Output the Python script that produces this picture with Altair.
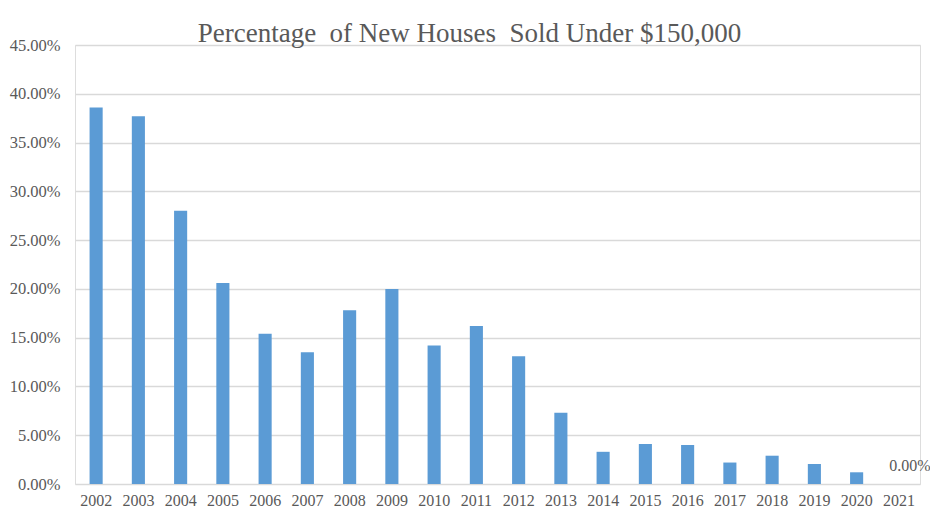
import altair as alt
import pandas as pd

years = [str(y) for y in range(2002, 2022)]
shares = [0.386, 0.377, 0.280, 0.206, 0.154, 0.135, 0.178, 0.200, 0.142, 0.162,
          0.131, 0.073, 0.033, 0.041, 0.040, 0.022, 0.029, 0.0205, 0.012, 0.0]
label_years = ["2021"]

df = pd.DataFrame({"Year": years, "Share": shares})
df["Label"] = [("0.00%" if y in label_years else "") for y in years]

FONT = "Liberation Serif"
GRAY = "#595959"

x = alt.X("Year:N", sort=years, title=None,
          scale=alt.Scale(paddingInner=0.69, paddingOuter=0.345),
          axis=alt.Axis(labelAngle=0, labelFont=FONT, labelFontSize=16, labelColor=GRAY,
                        ticks=False, domain=False, grid=False, labelPadding=8))
y = alt.Y("Share:Q", title=None,
          scale=alt.Scale(domain=[0, 0.45], nice=False),
          axis=alt.Axis(format=".2%", values=[i * 0.05 for i in range(10)],
                        labelFont=FONT, labelFontSize=16.5, labelColor=GRAY,
                        ticks=False, domain=False, grid=True, gridColor="#d9d9d9",
                        gridWidth=1.5, labelPadding=15))

bars = alt.Chart(df).mark_bar(color="#5B9BD5").encode(x=x, y=y)
labels = alt.Chart(df).transform_filter(alt.datum.Label != "").mark_text(
    font=FONT, fontSize=16, color=GRAY, dx=11, dy=-18, align="center", baseline="middle"
).encode(x=x, y=y, text="Label:N")

chart = alt.layer(bars, labels).properties(
    width=845, height=439,
    autosize=alt.AutoSizeParams(type="none"),
    padding={"left": 67, "top": 37, "right": 10, "bottom": 26},
    title=alt.TitleParams("Percentage\u00a0 of New Houses\u00a0 Sold Under $150,000",
                          font=FONT, fontSize=27, fontWeight="normal", color=GRAY,
                          anchor="middle", dx=-28, offset=-11),
).configure_view(stroke=None).configure(background="white")

chart.save("out.html", embed_options={"renderer": "svg", "actions": False})
